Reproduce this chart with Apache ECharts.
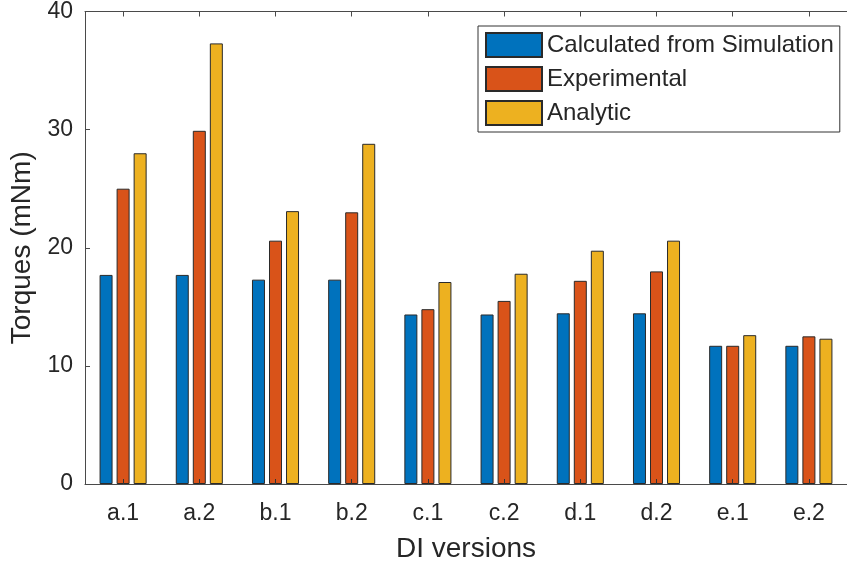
<!DOCTYPE html>
<html>
<head>
<meta charset="utf-8">
<script src="https://cdn.jsdelivr.net/npm/echarts@6/dist/echarts.min.js"></script>
<style>
html,body{margin:0;padding:0;background:#fff;}
#chart{width:847px;height:568px;}
</style>
</head>
<body>
<div id="chart"></div>
<script>
const categories = ['a.1', 'a.2', 'b.1', 'b.2', 'c.1', 'c.2', 'd.1', 'd.2', 'e.1', 'e.2'];
const seriesNames = ['Calculated from Simulation', 'Experimental', 'Analytic'];
const simulation = [17.7, 17.7, 17.3, 17.3, 14.35, 14.35, 14.45, 14.45, 11.7, 11.7];
const experimental = [25.0, 29.9, 20.6, 23.0, 14.8, 15.5, 17.2, 18.0, 11.7, 12.5];
const analytic = [28.0, 37.3, 23.1, 28.8, 17.1, 17.8, 19.75, 20.6, 12.6, 12.3];
const yMin = 0, yMax = 40, yStep = 10;

const colors = ['#0072BD', '#D95319', '#EDB120'];
const font = 'Liberation Sans, Arial, Helvetica, sans-serif';
const axisColor = '#4a4a4a';
const textColor = '#262626';

const chart = echarts.init(document.getElementById('chart'), null, {renderer: 'canvas'});

function barSeries(name, data, color) {
  return {
    name: name,
    type: 'bar',
    data: data,
    z: 2,
    barWidth: 13,
    barGap: '31%',
    itemStyle: {color: color, borderColor: '#2a2a2a', borderWidth: 1}
  };
}

const option = {
  animation: false,
  backgroundColor: '#fff',
  grid: {left: 85, top: 11, width: 769, height: 473},
  legend: {
    orient: 'vertical',
    left: 478,
    top: 26,
    padding: [6, 6, 6, 7],
    itemWidth: 56,
    itemHeight: 24,
    itemGap: 8,
    icon: 'rect',
    borderColor: '#333',
    borderWidth: 1,
    borderRadius: 0,
    backgroundColor: '#fff',
    textStyle: {fontSize: 24, color: textColor, fontFamily: font},
    data: seriesNames
  },
  xAxis: [{
    type: 'category',
    data: categories,
    position: 'bottom',
    z: 10,
    axisLine: {show: true, lineStyle: {color: axisColor, width: 1}},
    axisTick: {show: true, inside: true, alignWithLabel: true, length: 5, lineStyle: {color: '#333', width: 1}},
    axisLabel: {fontSize: 23, margin: 18, color: textColor, fontFamily: font},
    name: 'DI versions',
    nameLocation: 'middle',
    nameGap: 51,
    nameTextStyle: {fontSize: 28, color: textColor, fontFamily: font}
  }, {
    type: 'category',
    data: categories,
    position: 'top',
    z: 10,
    axisLine: {show: true, lineStyle: {color: axisColor, width: 1}},
    axisTick: {show: true, inside: true, alignWithLabel: true, length: 5, lineStyle: {color: axisColor}},
    axisLabel: {show: false}
  }],
  yAxis: [{
    type: 'value',
    min: yMin,
    max: yMax,
    interval: yStep,
    z: 10,
    splitLine: {show: false},
    axisLine: {show: true, lineStyle: {color: axisColor, width: 1}},
    axisTick: {show: true, inside: true, length: 5, lineStyle: {color: axisColor}},
    axisLabel: {fontSize: 23, margin: 12, color: textColor, fontFamily: font},
    name: 'Torques (mNm)',
    nameLocation: 'middle',
    nameGap: 48,
    nameRotate: 90,
    nameTextStyle: {fontSize: 28, color: textColor, fontFamily: font}
  }],
  series: [
    barSeries(seriesNames[0], simulation, colors[0]),
    barSeries(seriesNames[1], experimental, colors[1]),
    barSeries(seriesNames[2], analytic, colors[2])
  ]
};
chart.setOption(option);
</script>
</body>
</html>
